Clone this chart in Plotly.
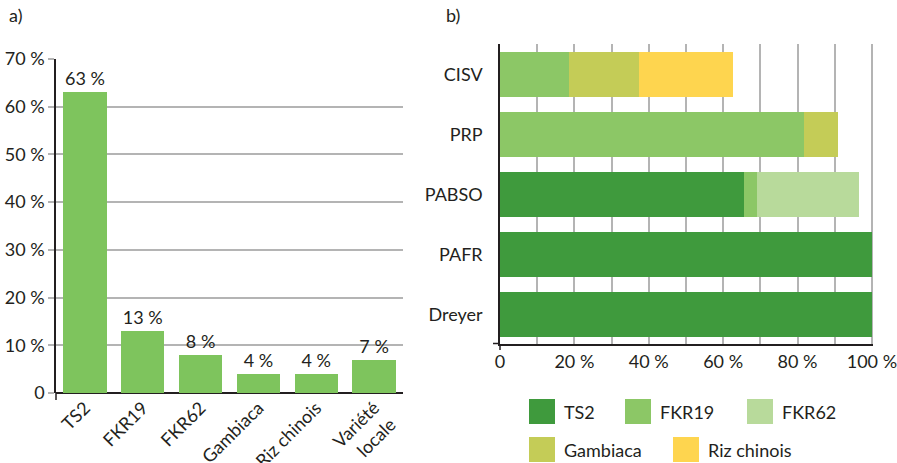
import plotly.graph_objects as go

W, H = 897, 463

# Panel a
varieties = ["TS2", "FKR19", "FKR62", "Gambiaca", "Riz chinois", "Variété<br>locale"]
shares = [63, 13, 8, 4, 4, 7]
share_labels = ["63 %", "13 %", "8 %", "4 %", "4 %", "7 %"]
y_ticks = [0, 10, 20, 30, 40, 50, 60, 70]
y_tick_labels = ["0", "10 %", "20 %", "30 %", "40 %", "50 %", "60 %", "70 %"]

# Panel b
sites = ["CISV", "PRP", "PABSO", "PAFR", "Dreyer"]
series_names = ["TS2", "FKR19", "FKR62", "Gambiaca", "Riz chinois"]
ts2 = [0, 0, 65.6, 100, 100]
fkr19 = [18.5, 81.7, 3.5, 0, 0]
fkr62 = [0, 0, 27.4, 0, 0]
gambiaca = [18.9, 9.2, 0, 0, 0]
riz_chinois = [25.2, 0, 0, 0, 0]
x_ticks = [0, 20, 40, 60, 80, 100]
x_tick_labels = ["0", "20 %", "40 %", "60 %", "80 %", "100 %"]

colors = ["#3f9a3d", "#8cc766", "#b8da9b", "#c4cc57", "#fed54f"]
bar_a_color = "#7ec45d"
FONT = "Lato"
FS = 18
TXT = "#231f20"
GRID = "#b4b4b4"

fig = go.Figure()

fig.add_trace(go.Bar(
    x=varieties, y=shares, text=share_labels, textposition="outside",
    textfont=dict(size=FS, color=TXT, family=FONT), cliponaxis=False,
    marker=dict(color=bar_a_color, line=dict(width=0)),
    xaxis="x", yaxis="y", showlegend=False, hoverinfo="skip"))

for name, vals, col in zip(series_names, [ts2, fkr19, fkr62, gambiaca, riz_chinois], colors):
    fig.add_trace(go.Bar(
        y=sites, x=vals, orientation="h", name=name,
        marker=dict(color=col, line=dict(width=0)),
        xaxis="x2", yaxis="y2", showlegend=False))

def px_x(p):
    return p / W

def px_y(p):
    return 1 - p / H

tf = dict(size=FS, family=FONT, color=TXT)

fig.update_layout(
    width=W, height=H,
    margin=dict(l=0, r=0, t=0, b=0),
    paper_bgcolor="white", plot_bgcolor="white",
    font=dict(family=FONT, size=FS, color=TXT),
    barmode="stack",
    bargap=0.25,
    xaxis=dict(domain=[px_x(56), px_x(403)], type="category", automargin=False,
               range=[-0.5, 5.5], tickangle=-45, showgrid=False,
               showline=False, ticks="", tickfont=tf),
    yaxis=dict(domain=[px_y(393), px_y(59)], range=[0, 70], automargin=False,
               tickvals=y_ticks, ticktext=y_tick_labels,
               showgrid=True, gridcolor=GRID, gridwidth=1.5,
               zeroline=True, zerolinecolor=TXT, zerolinewidth=1.5,
               showline=True, linecolor=TXT, linewidth=1.5,
               ticks="outside", ticklen=6, tickcolor=GRID, tickwidth=1.5,
               tickfont=tf),
    xaxis2=dict(domain=[px_x(500), px_x(873)], range=[0, 100.3], automargin=False,
                tickvals=x_ticks, ticktext=x_tick_labels,
                ticklabeloverflow="allow",
                showgrid=True, gridcolor=GRID, gridwidth=1.5,
                minor=dict(dtick=10, tick0=0, showgrid=True,
                           gridcolor=GRID, gridwidth=1.5),
                zeroline=False,
                showline=True, linecolor=TXT, linewidth=1.5,
                ticks="", anchor="y2", tickfont=tf),
    yaxis2=dict(domain=[px_y(344.3), px_y(44.3)], type="category", automargin=False,
                categoryorder="array", categoryarray=sites[::-1],
                range=[-0.5, 4.5], anchor="x2",
                showline=True, linecolor=TXT, linewidth=1.5,
                showgrid=False, ticks="", ticklabelstandoff=12,
                tickfont=tf),
)

# Tick stubs at axis origins
fig.add_shape(type="line", xref="paper", yref="paper",
              x0=px_x(56), x1=px_x(56), y0=px_y(393), y1=px_y(400),
              line=dict(color=TXT, width=1.5))
fig.add_shape(type="line", xref="paper", yref="paper",
              x0=px_x(500), x1=px_x(500), y0=px_y(344), y1=px_y(350),
              line=dict(color=TXT, width=1.5))
fig.add_shape(type="line", xref="paper", yref="paper",
              x0=px_x(493), x1=px_x(500), y0=px_y(343.5), y1=px_y(343.5),
              line=dict(color=TXT, width=1.5))

# Panel letters
fig.add_annotation(text="a)", x=px_x(7), y=px_y(15), xref="paper", yref="paper",
                   xanchor="left", yanchor="middle", showarrow=False,
                   font=dict(size=FS, family=FONT, color=TXT))
fig.add_annotation(text="b)", x=px_x(444), y=px_y(15), xref="paper", yref="paper",
                   xanchor="left", yanchor="middle", showarrow=False,
                   font=dict(size=FS, family=FONT, color=TXT))

# Legend (manual, large swatches)
legend_items = [
    ("TS2", colors[0], 529, 399),
    ("FKR19", colors[1], 625, 399),
    ("FKR62", colors[2], 747, 399),
    ("Gambiaca", colors[3], 529, 437),
    ("Riz chinois", colors[4], 673, 437),
]
for label, col, lx, ly in legend_items:
    fig.add_shape(type="rect", xref="paper", yref="paper",
                  x0=px_x(lx), x1=px_x(lx + 26), y0=px_y(ly + 25), y1=px_y(ly),
                  fillcolor=col, line=dict(width=0))
    fig.add_annotation(text=label, x=px_x(lx + 33), y=px_y(ly + 12.5),
                       xref="paper", yref="paper", xanchor="left", yanchor="middle",
                       showarrow=False, font=dict(size=FS, family=FONT, color=TXT))

fig.write_html("out.html", config={"displayModeBar": False},
               post_script="document.body.style.margin='0';document.body.style.overflow='hidden';")
